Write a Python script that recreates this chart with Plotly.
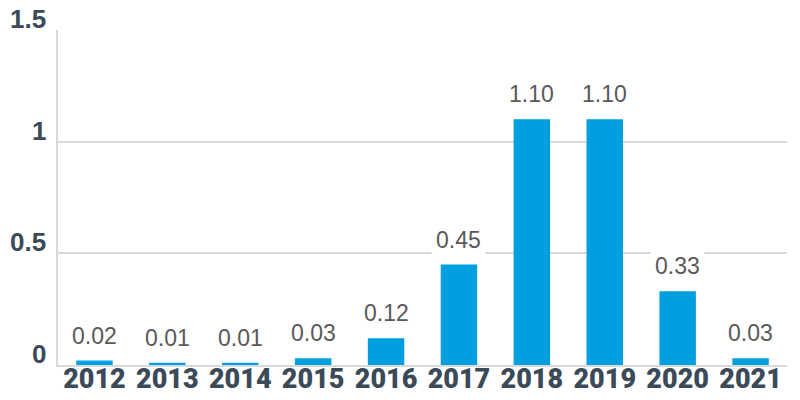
import plotly.graph_objects as go

years = ["2012", "2013", "2014", "2015", "2016", "2017", "2018", "2019", "2020", "2021"]
values = [0.02, 0.01, 0.01, 0.03, 0.12, 0.45, 1.10, 1.10, 0.33, 0.03]
y_tick_vals = [0, 0.5, 1, 1.5]
y_tick_text = ["0", "0.5", "1", "1.5"]

bar_color = "#009FDF"
axis_text = "#3B4A59"
label_color = "#595959"
grid_color = "#D9D9D9"

fig = go.Figure()
fig.add_trace(go.Bar(x=years, y=values, marker=dict(color=bar_color, line=dict(width=0)),
                     width=0.5, hoverinfo="skip"))

for i, v in enumerate(values):
    fig.add_annotation(x=i, y=v, text=f"{v:.2f}", showarrow=False,
                       yanchor="bottom", xanchor="center", yshift=7,
                       bgcolor="white", borderpad=4,
                       font=dict(family="Liberation Sans, Arial, sans-serif", size=23, color=label_color))

# y tick labels sit just above their gridlines
for tv, tt in zip(y_tick_vals, y_tick_text):
    fig.add_annotation(xref="paper", x=0, yref="y", y=tv, text=f"<b>{tt}</b>", showarrow=False,
                       xanchor="right", yanchor="bottom", xshift=-10, yshift=-6,
                       font=dict(family="Liberation Sans, Arial, sans-serif", size=26, color=axis_text))

# page body has an 8px default margin, so the figure is 792x392
fig.update_layout(
    width=792, height=392,
    margin=dict(l=50, r=13, t=22, b=35),
    paper_bgcolor="white", plot_bgcolor="white",
    showlegend=False,
    bargap=0.5,
)
fig.update_xaxes(
    type="category", range=[-0.5, len(years) - 0.5],
    showgrid=False, showline=True, linecolor=grid_color, linewidth=2,
    ticks="", tickangle=0, automargin=False,
    tickfont=dict(family="Roboto, sans-serif", size=27, color=axis_text, weight=900),
    ticklabelstandoff=-11,
)
fig.update_yaxes(
    range=[0, 1.5], tickvals=y_tick_vals, showticklabels=False,
    showgrid=True, gridcolor=grid_color, gridwidth=2,
    showline=True, linecolor=grid_color, linewidth=2,
    zeroline=False, ticks="", automargin=False,
)

fig.write_html("out.html")
